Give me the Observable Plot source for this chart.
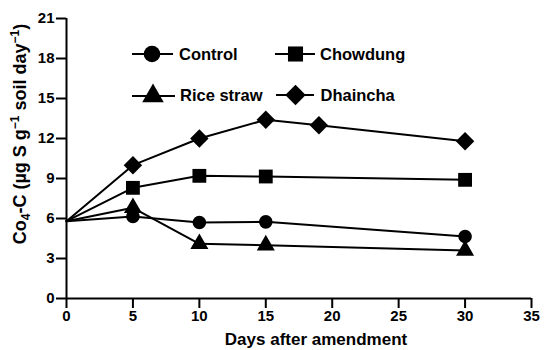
<!DOCTYPE html>
<html><head><meta charset="utf-8">
<script src="https://cdn.jsdelivr.net/npm/d3@7"></script>
<script src="https://cdn.jsdelivr.net/npm/@observablehq/plot@0.6"></script>
<style>
body{margin:0;background:#fff;}
#chart{position:relative;width:544px;height:350px;}
#chart svg{display:block;}
</style></head><body><div id="chart"></div>
<script>
// ---- data ----
const seriesNames = ["Control", "Chowdung", "Rice straw", "Dhaincha"];
const seriesSymbols = ["circle", "square", "triangle", "diamond2"];
const seriesRadius = [6.8, 7.8, 6.7, 8.3];
const legendRadius = [8.3, 8.5, 8, 9.2];
const controlDays = [0, 5, 10, 15, 30];
const controlValues = [5.8, 6.15, 5.7, 5.75, 4.65];
const chowdungDays = [0, 5, 10, 15, 30];
const chowdungValues = [5.8, 8.3, 9.2, 9.15, 8.9];
const riceStrawDays = [0, 5, 10, 15, 30];
const riceStrawValues = [5.8, 6.8, 4.1, 4.0, 3.6];
const dhainchaDays = [0, 5, 10, 15, 19, 30];
const dhainchaValues = [5.8, 10.0, 12.0, 13.4, 13.0, 11.8];
const xTicks = [0, 5, 10, 15, 20, 25, 30, 35];
const yTicks = [0, 3, 6, 9, 12, 15, 18, 21];
const xLabel = "Days after amendment";

const allDays = [controlDays, chowdungDays, riceStrawDays, dhainchaDays];
const allValues = [controlValues, chowdungValues, riceStrawValues, dhainchaValues];
const tables = allDays.map((days, i) => days.map((d, j) => ({series: seriesNames[i], day: d, value: allValues[i][j]})));

const FONT = "'Liberation Sans', Arial, Helvetica, sans-serif";

const marks = [];
tables.forEach((t, i) => {
  marks.push(Plot.line(t, {x: "day", y: "value", stroke: "#000", strokeWidth: 2}));
});
tables.forEach((t, i) => {
  marks.push(Plot.dot(t.filter(d => d.day > 0), {x: "day", y: "value", symbol: () => seriesSymbols[i], r: seriesRadius[i], fill: "#000", stroke: "none"}));
});
marks.push(Plot.ruleX([0], {stroke: "#000", strokeWidth: 2}));
marks.push(Plot.ruleY([0], {stroke: "#000", strokeWidth: 2}));
marks.push(Plot.axisX({ticks: xTicks, tickSize: 10, tickPadding: 2, strokeWidth: 2, label: null, fontSize: 15, fontWeight: "bold"}));
marks.push(Plot.axisY({ticks: yTicks, tickSize: 10, tickPadding: 2, strokeWidth: 2, label: null, fontSize: 15, fontWeight: "bold"}));

const chart = Plot.plot({
  width: 544,
  height: 350,
  marginLeft: 66,
  marginRight: 13,
  marginTop: 18,
  marginBottom: 52,
  x: {domain: [0, 35]},
  y: {domain: [0, 21]},
  symbol: {domain: seriesNames, range: seriesSymbols},
  style: {fontFamily: FONT, fontSize: "15px", color: "#000", background: "#fff", overflow: "visible"},
  marks
});
document.getElementById("chart").appendChild(chart);

// ---- axis titles and legend (layout only) ----
const svg = d3.select(chart);
svg.append("text")
  .attr("x", 316).attr("y", 345)
  .attr("text-anchor", "middle")
  .attr("font-family", FONT).attr("font-weight", "bold").attr("font-size", 17)
  .text(xLabel);

const yl = svg.append("text")
  .attr("transform", "translate(26,134) rotate(-90)")
  .attr("text-anchor", "middle")
  .attr("font-family", FONT).attr("font-weight", "bold").attr("font-size", 18);
yl.append("tspan").text("Co");
yl.append("tspan").attr("font-size", 12).attr("dy", 4).text("4");
yl.append("tspan").attr("dy", -4).text("-C (\u00b5g S g");
yl.append("tspan").attr("font-size", 12).attr("dy", -7).text("\u22121");
yl.append("tspan").attr("dy", 7).text(" soil day");
yl.append("tspan").attr("font-size", 12).attr("dy", -7).text("\u22121");
yl.append("tspan").attr("dy", 7).text(")");

const legendLayout = [
  {x1: 132, x2: 173, cx: 152, cy: 54, tx: 179, ty: 60},
  {x1: 275, x2: 315, cx: 295.5, cy: 54, tx: 320, ty: 60},
  {x1: 132, x2: 175, cx: 153, cy: 96, tx: 180, ty: 101},
  {x1: 276, x2: 314, cx: 295.5, cy: 95, tx: 320.5, ty: 101}
];
const symbolMap = {circle: d3.symbolCircle, square: d3.symbolSquare, triangle: d3.symbolTriangle, diamond2: d3.symbolDiamond2};
const lg = svg.append("g");
seriesNames.forEach((name, i) => {
  const L = legendLayout[i];
  lg.append("line").attr("x1", L.x1).attr("x2", L.x2).attr("y1", L.cy).attr("y2", L.cy)
    .attr("stroke", "#000").attr("stroke-width", 2);
  lg.append("path")
    .attr("transform", `translate(${L.cx},${L.cy})`)
    .attr("d", d3.symbol(symbolMap[seriesSymbols[i]], Math.PI * legendRadius[i] ** 2)())
    .attr("fill", "#000");
  lg.append("text").attr("x", L.tx).attr("y", L.ty)
    .attr("text-anchor", "start")
    .attr("font-family", FONT).attr("font-weight", "bold").attr("font-size", 16.5)
    .text(name);
});
</script>
</body></html>
